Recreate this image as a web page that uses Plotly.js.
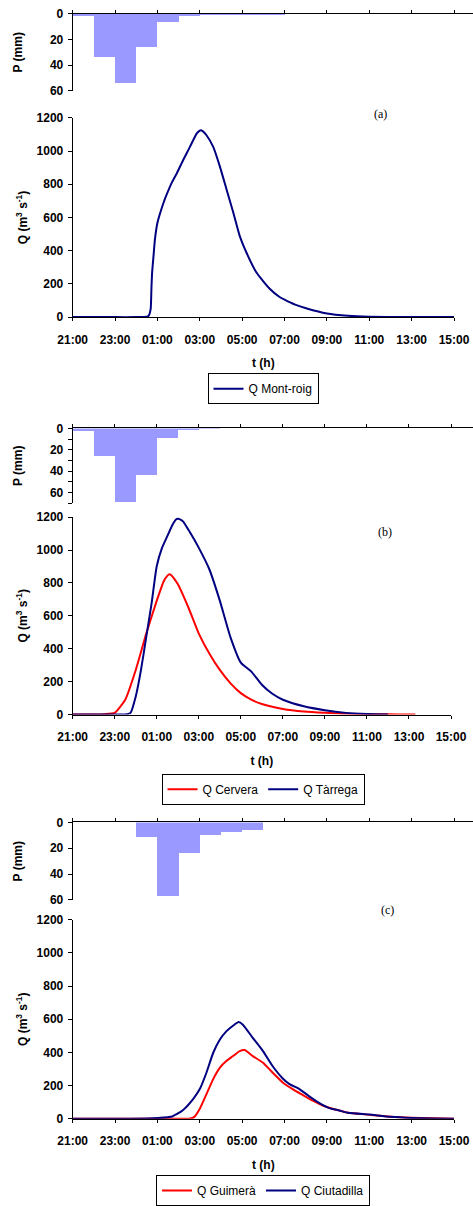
<!DOCTYPE html>
<html>
<head>
<meta charset="utf-8">
<script src="https://cdn.plot.ly/plotly-3.0.1.min.js"></script>
<style>
html,body{margin:0;padding:0;background:#fff;}
#chart{width:473px;height:1206px;}
</style>
</head>
<body>
<div id="chart"></div>
<script>
// ---------- DATA ----------
// Hourly precipitation bars (start hour of each bar), mm
const rainHoursA = ["21:00","22:00","23:00","00:00","01:00","02:00","03:00","04:00","05:00","06:00"];
const rainA      = [2, 34, 54, 26, 6, 1.3, 0.7, 0.6, 0.6, 0.6];

const rainHoursB = ["21:00","22:00","23:00","00:00","01:00","02:00","03:00"];
const rainB      = [2.8, 26, 69, 44, 9.4, 1.9, 0.9];

const rainHoursC = ["00:00","01:00","02:00","03:00","04:00","05:00"];
const rainC      = [11.5, 56.7, 23.7, 10, 7.7, 6.1];

// Discharge (m3/s), panel (a)
const timesMontroig = ["21:00","22:00","23:00","00:00","00:30","00:35","00:38","00:41","00:43","00:45","00:49","00:53","01:00","01:08","01:17","01:26","01:40","01:55","02:13","02:32","02:51","02:58","03:03","03:08","03:19","03:38","03:57","04:16","04:35","04:53","05:12","05:40","06:18","06:46","07:00","07:30","08:03","09:00","10:00","11:00","12:00","13:00","14:00","15:00"];
const qMontroig     = [0, 0, 0, 0, 2, 8, 22, 52, 171, 270, 370, 469, 568, 628, 687, 737, 807, 866, 946, 1025, 1105, 1120, 1125, 1120, 1095, 1025, 906, 767, 628, 489, 389, 270, 171, 121, 105, 75, 52, 22, 8, 2, 1, 0.5, 0, 0];

// Discharge, panel (b)
const timesCervera = ["21:00","22:00","22:30","23:00","23:30","00:00","00:30","01:00","01:20","01:30","01:36","01:42","01:50","02:00","02:30","03:00","03:30","04:00","04:30","05:00","05:30","06:00","07:00","08:00","09:00","10:00","11:00","12:00","13:00","13:18"];
const qCervera     = [0, 0, 2, 10, 90, 271, 492, 692, 810, 843, 852, 845, 825, 793, 652, 492, 371, 271, 191, 130, 90, 64, 34, 18, 10, 5, 2, 1, 0, 0];

const timesTarrega = ["21:00","22:00","23:00","23:30","23:45","00:00","00:15","00:30","00:45","01:00","01:15","01:30","01:45","01:55","02:00","02:05","02:15","02:30","03:00","03:30","04:00","04:30","05:00","05:30","06:00","06:30","07:00","08:00","09:00","10:00","11:00","12:00"];
const qTarrega     = [0, 0, 0, 0, 10, 110, 271, 472, 672, 903, 1013, 1084, 1154, 1185, 1190, 1188, 1174, 1124, 1013, 883, 692, 472, 315, 261, 181, 126, 90, 50, 26, 10, 3, 0];

// Discharge, panel (c)
const timesGuimera = ["21:00","23:00","01:00","02:00","02:30","02:44","03:00","03:19","03:38","03:57","04:15","04:34","04:53","05:07","05:30","05:59","06:26","06:55","07:23","07:52","08:20","08:48","09:16","09:35","10:00","11:00","12:00","13:00","14:00","15:00"];
const qGuimera     = [0, 0, 0, 0, 0, 10, 60, 149, 239, 308, 348, 378, 408, 414, 378, 338, 279, 219, 179, 143, 109, 80, 60, 50, 36, 24, 12, 6, 3, 0];

const timesCiutadilla = ["21:00","23:00","00:30","01:00","01:42","02:11","02:41","03:00","03:19","03:38","03:57","04:15","04:34","04:50","05:02","05:30","05:59","06:26","06:55","07:14","07:42","08:10","08:39","09:07","09:35","10:00","11:00","12:00","13:00","14:00","15:00"];
const qCiutadilla     = [0, 0, 1, 4, 14, 50, 119, 179, 279, 398, 478, 527, 561, 583, 567, 488, 408, 318, 243, 209, 179, 135, 94, 64, 50, 36, 25, 12, 5, 2, 0];

const xTickFormat = "%H:%M";
const panelLabels = ["(a)", "(b)", "(c)"];
const legendNames = {montroig:"Q Mont-roig", cervera:"Q Cervera", tarrega:"Q Tàrrega", guimera:"Q Guimerà", ciutadilla:"Q Ciutadilla"};

// ---------- HELPERS ----------
function toDate(hhmm){
  const h = parseInt(hhmm.slice(0,2),10);
  return (h >= 21 ? "2000-01-01 " : "2000-01-02 ") + hhmm;
}
const W = 473, H = 1206;
const START = Date.UTC(2000,0,1,21,0);
const HOUR = 3600000;
const END = START + 18*HOUR;
function px(x){ return x / W; }
function py(y){ return 1 - y / H; }

const FONT = "Liberation Sans";
const BLUE_BAR = "#9999FF";
const NAVY = "#000080";
const RED = "#FF0000";

// panel geometry (pixels)
const panels = [
  {pTop:14,    pBot:91.7,  qTop:119,   qBot:320.3, xL:72.7, xR:454, pMax:60, pMinor:false, lab:{x:380,y:115}, leg:{y:377}},
  {pTop:432.7, pBot:508.3, qTop:522.3, qBot:721.7, xL:72.7, xR:451, pMax:70, pMinor:true,  lab:{x:385,y:537}, leg:{y:781.5}},
  {pTop:830.7, pBot:909,   qTop:929,   qBot:1130,  xL:72.7, xR:454, pMax:60, pMinor:false, lab:{x:387,y:919}, leg:{y:1187}}
];

const tickFont = {family:FONT, size:12, color:"#000", weight:"bold"};
const titleFont = {family:FONT, size:12, color:"#000", weight:"bold"};

const layout = {
  width: W, height: H,
  margin: {l:0, r:0, t:0, b:0},
  paper_bgcolor: "#fff", plot_bgcolor: "rgba(0,0,0,0)",
  showlegend: true,
  bargap: 0,
  annotations: [],
  font: {family: FONT, color:"#000"}
};

const traces = [];
const rainSets = [[rainHoursA, rainA],[rainHoursB, rainB],[rainHoursC, rainC]];
const qSets = [
  [{t:timesMontroig, q:qMontroig, name:legendNames.montroig, color:NAVY}],
  [{t:timesCervera, q:qCervera, name:legendNames.cervera, color:RED},
   {t:timesTarrega, q:qTarrega, name:legendNames.tarrega, color:NAVY}],
  [{t:timesGuimera, q:qGuimera, name:legendNames.guimera, color:RED},
   {t:timesCiutadilla, q:qCiutadilla, name:legendNames.ciutadilla, color:NAVY}]
];
const legendIds = ["legend","legend2","legend3"];

panels.forEach((p, i) => {
  const qx = "x" + (2*i+1), qy = "y" + (2*i+1);
  const rx = "x" + (2*i+2), ry = "y" + (2*i+2);
  const qxName = "xaxis" + (i === 0 ? "" : (2*i+1));
  const qyName = "yaxis" + (i === 0 ? "" : (2*i+1));
  const rxName = "xaxis" + (2*i+2);
  const ryName = "yaxis" + (2*i+2);
  const pxEnd = START + 18*HOUR*(W - p.xL)/(p.xR - p.xL);

  layout[qxName] = {
    domain:[px(p.xL), px(p.xR)], anchor: qy, type:"date",
    range:[START, END], tick0: toDate("21:00"), dtick: 2*HOUR, tickformat: xTickFormat,
    showline:true, linecolor:"#000", linewidth:1,
    ticks:"outside", ticklen:3, tickcolor:"#000", tickwidth:1, ticklabelstandoff:8,
    showgrid:false, zeroline:false, tickfont: tickFont,
    title:{text:"t (h)", font:titleFont, standoff:13}
  };
  layout[qyName] = {
    domain:[py(p.qBot), py(p.qTop)], anchor: qx,
    range:[0,1200], dtick:200, tick0:0,
    showline:true, linecolor:"#000", linewidth:1,
    ticks:"outside", ticklen:4, tickcolor:"#000", ticklabelstandoff:2,
    showgrid:false, zeroline:false, tickfont: tickFont,
    title:{text:"Q (m<sup>3</sup> s<sup>-1</sup>)", font:titleFont, standoff:6}
  };
  layout[rxName] = {
    domain:[px(p.xL), 1], anchor: ry, type:"date", side:"top",
    range:[START, pxEnd], tick0: toDate("21:00"), dtick: 2*HOUR,
    showticklabels:false,
    showline:true, linecolor:"#000", linewidth:1,
    ticks:"outside", ticklen:3, tickcolor:"#000",
    showgrid:false, zeroline:false
  };
  layout[ryName] = {
    domain:[py(p.pBot), py(p.pTop)], anchor: rx,
    range:[p.pMax, 0], dtick:20, tick0:0,
    showline:true, linecolor:"#000", linewidth:1,
    ticks:"outside", ticklen:4, tickcolor:"#000", ticklabelstandoff:2,
    showgrid:false, zeroline:false, tickfont: tickFont,
    title:{text:"P (mm)", font:titleFont, standoff:24}
  };
  if (p.pMinor) {
    layout[ryName].minor = {dtick:10, ticks:"outside", ticklen:4, tickcolor:"#000", showgrid:false};
  }

  // bars
  const [hrs, vals] = rainSets[i];
  traces.push({
    type:"bar", x: hrs.map(toDate), y: vals, xaxis: rx, yaxis: ry,
    offset: 0, width: HOUR, marker:{color:BLUE_BAR, line:{width:0}},
    showlegend:false, hoverinfo:"skip"
  });
  // lines
  qSets[i].forEach(s => {
    traces.push({
      type:"scatter", mode:"lines", x: s.t.map(toDate), y: s.q,
      xaxis: qx, yaxis: qy, name: s.name, legend: legendIds[i],
      line:{color:s.color, width:2, shape:"spline", smoothing:0.5}
    });
  });

  layout[legendIds[i]] = {
    orientation:"h", x: px(263), xanchor:"center", y: py(p.leg.y), yanchor:"top",
    bordercolor:"#000", borderwidth:1, bgcolor:"#fff",
    font:{family:FONT, size:12, color:"#000"},
    itemwidth:30, tracegroupgap:0
  };

  layout.annotations.push({
    text: panelLabels[i], xref:"paper", yref:"paper",
    x: px(p.lab.x), y: py(p.lab.y), xanchor:"center", yanchor:"middle",
    showarrow:false, font:{family:"Liberation Serif", size:12, color:"#000"}
  });
});

Plotly.newPlot("chart", traces, layout, {staticPlot:true, displayModeBar:false});
</script>
</body>
</html>
